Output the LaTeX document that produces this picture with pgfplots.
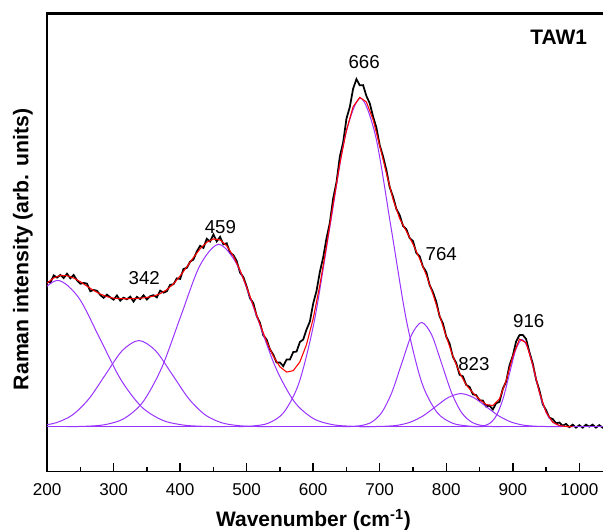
\documentclass[border=0pt]{standalone}
\usepackage{fontspec}
\setmainfont{Liberation Sans}
\usepackage{pgfplots}
\usepackage{pgfplotstable}
\pgfplotsset{compat=1.18}
\definecolor{comp}{HTML}{9933FF}

% measured spectrum (black), every 5 cm-1
\pgfplotstableread{
x y
200 144.8
205 143.9
210 151.0
215 148.8
220 151.5
225 148.4
230 152.7
235 148.1
240 151.4
245 146.1
250 142.7
255 143.5
260 142.8
265 135.2
270 136.5
275 135.7
280 131.4
285 128.6
290 131.8
295 129.1
300 126.8
305 131.0
310 125.8
315 128.8
320 127.2
325 129.8
330 124.9
335 129.6
340 127.3
345 131.2
350 127.0
355 130.2
360 131.3
365 129.1
370 135.8
375 133.8
380 135.2
385 141.7
390 142.1
395 148.1
400 147.5
405 157.5
410 158.5
415 164.7
420 166.9
425 174.8
430 180.6
435 178.4
440 187.6
445 184.8
450 191.9
455 185.0
460 189.5
465 182.1
470 183.1
475 173.5
480 171.4
485 165.4
490 153.8
495 149.4
500 139.9
505 128.2
510 123.4
515 110.6
520 103.7
525 91.1
530 87.0
535 77.2
540 71.9
545 64.0
550 64.0
555 60.5
560 67.0
565 67.0
570 74.5
575 75.0
580 84.5
585 87.0
590 97.0
595 105.0
600 123.0
605 135.5
610 154.5
615 169.0
620 188.1
625 203.5
630 227.9
635 244.0
640 269.5
645 283.8
650 307.6
655 319.0
660 337.4
665 347.0
670 340.8
675 341.0
680 330.1
685 322.9
690 309.6
695 298.6
700 281.1
705 269.9
710 256.2
715 239.1
720 229.6
725 217.4
730 211.2
735 200.5
740 197.2
745 188.2
750 185.3
755 173.5
760 170.2
765 159.6
770 154.5
775 141.4
780 134.3
785 124.7
790 110.1
795 103.0
800 89.9
805 83.1
810 69.8
815 63.5
820 51.8
825 50.2
830 41.7
835 39.7
840 32.3
845 31.5
850 26.2
855 26.1
860 20.1
865 21.1
870 17.1
875 23.4
880 24.8
885 37.8
890 44.9
895 61.1
900 70.8
905 85.0
910 91.4
915 91.6
920 87.5
925 74.5
930 63.1
935 47.1
940 36.4
945 22.5
950 16.5
955 9.0
960 7.6
965 3.4
970 4.1
975 1.0
980 2.7
985 -0.5
990 2.0
995 -1.0
1000 1.5
1005 -1.0
1010 2.0
1015 0.0
1020 2.0
1025 -1.0
1030 1.5
1035 -1.0
1040 1.5
}\spectrum

% cumulative fit (red)
\pgfplotstableread{
x y
200 143.3
210 148.5
220 151.0
230 150.7
240 148.4
250 144.7
260 140.3
270 136.0
280 132.4
290 129.8
300 128.3
310 127.8
320 127.7
330 127.9
340 128.3
350 129.0
360 130.3
370 132.8
380 136.7
390 142.6
400 150.5
410 159.5
420 168.9
430 177.6
440 184.1
450 187.4
460 186.5
470 180.6
480 170.4
490 156.3
500 139.4
510 120.9
520 102.2
530 85.0
540 70.4
550 59.8
560 54.5
570 55.9
580 64.7
590 82.1
600 107.9
610 141.4
620 180.6
630 222.4
640 262.5
650 296.1
660 319.4
670 328.8
680 324.1
690 306.6
700 280.6
710 253.2
720 227.1
730 207.7
740 195.2
750 182.3
760 167.7
770 151.5
780 132.3
790 111.1
800 89.9
810 70.3
820 53.8
830 41.7
840 33.8
850 27.2
860 22.1
870 21.1
880 27.8
890 45.9
900 70.3
910 87.4
920 84.0
930 61.6
940 34.4
950 14.5
960 4.6
970 1.1
980 0.2
990 0.0
}\fit

\begin{document}
\begin{tikzpicture}
\begin{axis}[
    name=main,
    scale only axis,
    width=417pt, height=343.5pt,
    xmin=200, xmax=1037, ymin=-45, ymax=413,
    axis line style={line width=1.1pt},
    xtick={200,300,...,1000},
    minor x tick num=1,
    xtick pos=left,
    ytick=\empty,
    tick align=inside,
    major tick length=6.75pt, minor tick length=3.75pt,
    every tick/.style={black, line width=1.1pt},
    /pgf/number format/assume math mode=true,
    /pgf/number format/1000 sep={},
    xticklabel style={font=\fontsize{12.8}{15}\selectfont, inner sep=0pt, yshift=-8.5pt},
    xlabel={Wavenumber (cm\textsuperscript{-1})},
    xlabel style={font=\fontsize{15.7}{18}\selectfont\bfseries, at={(axis description cs:0.4784,0)}, anchor=north, inner sep=0pt, yshift=-28pt},
    ylabel={Raman intensity (arb. units)},
    ylabel style={font=\fontsize{15.9}{18}\selectfont\bfseries, at={(axis description cs:-0.0252,0.485)}, rotate=0, anchor=south, inner sep=0pt},
]
% top frame line (lower half shows inside the clip)
\draw[black, line width=2.4pt] (rel axis cs:0,1) -- (rel axis cs:1,1);
\addplot[black, line width=1.3pt] table {\spectrum};
% baseline and fitted components
\addplot[comp, line width=0.8pt] coordinates {(200,0) (1040,0)};
\addplot[comp, line width=0.75pt, smooth] coordinates {
 (121.5,47.4) (153,88.5) (184.5,128.8) (216,146) (247.5,128.8) (279,88.5) (310.5,47.4)
 (342,19.8) (373.5,6.4) (405,1.6) (436.5,0.3) (468,0)};
\addplot[comp, line width=0.75pt, smooth] coordinates {
 (138,0) (163,0.2) (188,1.0) (213,3.8) (238,11.6) (263,27.9) (288,52.2) (313,75.9) (338,86)
 (363,75.9) (388,52.2) (413,27.9) (438,11.6) (463,3.8) (488,1.0) (513,0.2) (538,0)};
\addplot[comp, line width=0.75pt, smooth] coordinates {
 (230,0) (258.5,0.4) (287,2.0) (315.5,8.0) (344,24.6) (372.5,59.1) (401,110.4) (429.5,160.6) (458,182)
 (486.5,160.6) (515,110.4) (543.5,59.1) (572,24.6) (600.5,8.0) (629,2.0) (657.5,0.4) (686,0)};
\addplot[comp, line width=0.75pt, smooth] coordinates {
 (487,0) (510,0.7) (533,3.6) (556,14.4) (579,44.4) (602,106.5) (625,198.9) (648,289.5) (671,328)
 (694,289.5) (717,198.9) (740,106.5) (763,44.4) (786,14.4) (809,3.6) (832,0.7) (855,0)};
\addplot[comp, line width=0.75pt, smooth] coordinates {
 (643,0) (658,0.2) (673,1.2) (688,4.6) (703,14.1) (718,33.8) (733,63.1) (748,91.8) (763,104)
 (778,91.8) (793,63.1) (808,33.8) (823,14.1) (838,4.6) (853,1.2) (868,0.2) (883,0)};
\addplot[comp, line width=0.75pt, smooth] coordinates {
 (670,0) (689,0.1) (708,0.4) (727,1.4) (746,4.5) (765,10.7) (784,20.0) (803,29.1) (822,33)
 (841,29.1) (860,20.0) (879,10.7) (898,4.5) (917,1.4) (936,0.4) (955,0.1) (974,0)};
\addplot[comp, line width=0.75pt, smooth] coordinates {
 (838,0) (847.5,0.2) (857,1.0) (866.5,3.8) (876,11.8) (885.5,28.2) (895,52.8) (904.5,76.8) (914,87)
 (923.5,76.8) (933,52.8) (942.5,28.2) (952,11.8) (961.5,3.8) (971,1.0) (980.5,0.2) (990,0)};
\addplot[red, line width=0.8pt] table {\fit};
% peak positions
\node[font=\fontsize{14}{16}\selectfont] at (axis cs:346,148) {342};
\node[font=\fontsize{14}{16}\selectfont] at (axis cs:460.5,199) {459};
\node[font=\fontsize{14}{16}\selectfont] at (axis cs:676.6,363.6) {666};
\node[font=\fontsize{14}{16}\selectfont] at (axis cs:792.5,172) {764};
\node[font=\fontsize{14}{16}\selectfont] at (axis cs:841.6,63) {823};
\node[font=\fontsize{14}{16}\selectfont] at (axis cs:924,105) {916};
\node[font=\fontsize{15.7}{18}\selectfont\bfseries] at (axis cs:969,389) {TAW1};
\end{axis}
% crop: the right frame line lies just outside the page, as in the cropped original
\pgfresetboundingbox
\useasboundingbox ([xshift=-35.25pt,yshift=-43pt]main.south west) rectangle ([xshift=-0.7pt,yshift=9.75pt]main.north east);
\end{tikzpicture}
\end{document}
